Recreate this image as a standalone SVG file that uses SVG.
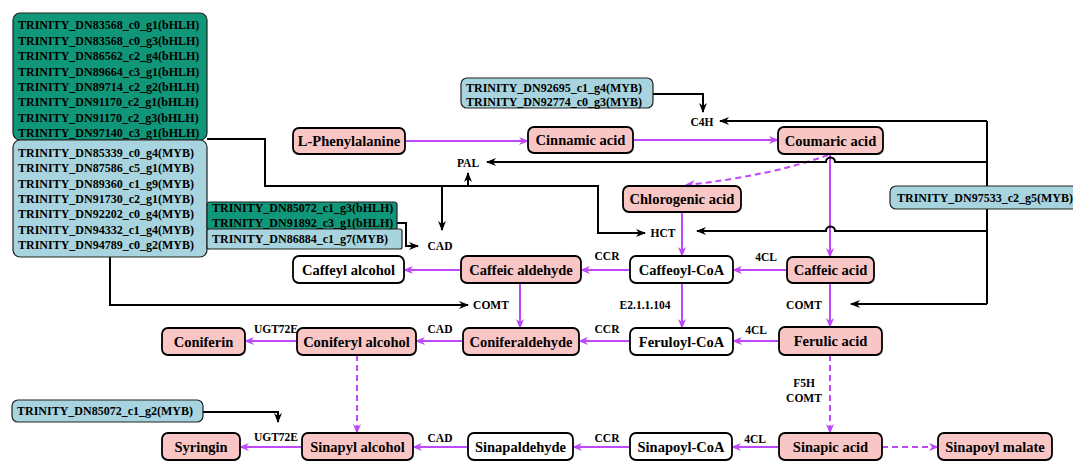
<svg xmlns="http://www.w3.org/2000/svg" width="1073" height="461" viewBox="0 0 1073 461">
<defs>
<style>
.t{font-family:"Liberation Serif","Times New Roman",serif;font-weight:bold;fill:#000}
.g{font-size:12px}
.n{font-size:14.5px;text-anchor:middle}
.e{font-size:11.5px;text-anchor:middle}
.pink{fill:#F8C6C4;stroke:#000;stroke-width:1.8}
.white{fill:#fff;stroke:#000;stroke-width:1.8}
.green{fill:#10977A;stroke:#222;stroke-width:1.2}
.blue{fill:#A7D4DF;stroke:#222;stroke-width:1.2}
.pl{fill:none;stroke:#BF48FB;stroke-width:2;marker-end:url(#pa)}
.pd{fill:none;stroke:#BF48FB;stroke-width:2;stroke-dasharray:6 4;marker-end:url(#pa)}
.bl{fill:none;stroke:#000;stroke-width:2}
.ba{fill:none;stroke:#000;stroke-width:2;marker-end:url(#ka)}
</style>
<marker id="pa" markerUnits="userSpaceOnUse" markerWidth="10" markerHeight="10" viewBox="0 0 10 10" refX="9" refY="5" orient="auto">
<path d="M0 1 L10 5 L0 9 L3 5 Z" fill="#BF48FB"/>
</marker>
<marker id="ka" markerUnits="userSpaceOnUse" markerWidth="10" markerHeight="10" viewBox="0 0 10 10" refX="9" refY="5" orient="auto-start-reverse">
<path d="M0 1 L10 5 L0 9 L3 5 Z" fill="#000"/>
</marker>
</defs>
<rect width="1073" height="461" fill="#fff"/>

<g id="connectors">
<path class="pl" d="M405 141 H528"/>
<path class="pl" d="M633 140 H778"/>
<path class="pd" d="M828 155 Q770 176 686 185"/>
<path class="pl" d="M830 154 V257"/>
<path class="pl" d="M682 212 V256"/>
<path class="pl" d="M787 270 H733"/>
<path class="pl" d="M630 270 H581"/>
<path class="pl" d="M461 270 H404"/>
<path class="pl" d="M520 283 V328"/>
<path class="pl" d="M682 283 V328"/>
<path class="pl" d="M830 283 V327"/>
<path class="pl" d="M779 341 H733"/>
<path class="pl" d="M630 341 H579"/>
<path class="pl" d="M463 341 H416"/>
<path class="pl" d="M297 341 H245"/>
<path class="pd" d="M357 355 V433"/>
<path class="pd" d="M830 355 V433"/>
<path class="pl" d="M779 447 H732"/>
<path class="pl" d="M630 447 H573"/>
<path class="pl" d="M468 447 H413"/>
<path class="pl" d="M302 447 H240"/>
<path class="pd" d="M882 447 H938"/>

<path class="ba" d="M653 94 H703 V112"/>
<path class="bl" d="M987 121 V304"/>
<path class="ba" d="M987 121 H720"/>
<path class="ba" d="M987 162 H835 A4.5 4.5 0 0 0 826 162 H487"/>
<path class="ba" d="M987 231 H835 A4.5 4.5 0 0 0 826 231 H697"/>
<path class="ba" d="M987 304 H851"/>
<path class="ba" d="M207 139 H265 V186 H598 V233 H645"/>
<path class="ba" d="M442 186 V230"/>
<path class="ba" d="M468 186 V173"/>
<path class="ba" d="M110 257 V305 H468"/>
<path class="ba" d="M397 223 H406 V246 H418"/>
<path class="ba" d="M203 412 H278 V422"/>

<text class="t e" x="702" y="126">C4H</text>
<text class="t e" x="468" y="167">PAL</text>
<text class="t e" x="663" y="237">HCT</text>
<text class="t e" x="440" y="250">CAD</text>
<text class="t e" x="607" y="260">CCR</text>
<text class="t e" x="766" y="261">4CL</text>
<text class="t e" x="491" y="309">COMT</text>
<text class="t e" x="645" y="309">E2.1.1.104</text>
<text class="t e" x="804" y="309">COMT</text>
<text class="t e" x="276" y="333">UGT72E</text>
<text class="t e" x="440" y="333">CAD</text>
<text class="t e" x="607" y="333">CCR</text>
<text class="t e" x="756" y="334">4CL</text>
<text class="t e" x="804" y="387">F5H</text>
<text class="t e" x="804" y="402">COMT</text>
<text class="t e" x="276" y="441">UGT72E</text>
<text class="t e" x="440" y="442">CAD</text>
<text class="t e" x="607" y="442">CCR</text>
<text class="t e" x="755" y="443">4CL</text>
</g>

<g id="tf-bhlh-1">
<rect class="green" x="13" y="13" width="194" height="127" rx="7"/>
<text class="t g" x="18" y="29.3">TRINITY_DN83568_c0_g1(bHLH)</text>
<text class="t g" x="18" y="44.7">TRINITY_DN83568_c0_g3(bHLH)</text>
<text class="t g" x="18" y="60.1">TRINITY_DN86562_c2_g4(bHLH)</text>
<text class="t g" x="18" y="75.5">TRINITY_DN89664_c3_g1(bHLH)</text>
<text class="t g" x="18" y="90.9">TRINITY_DN89714_c2_g2(bHLH)</text>
<text class="t g" x="18" y="106.3">TRINITY_DN91170_c2_g1(bHLH)</text>
<text class="t g" x="18" y="121.7">TRINITY_DN91170_c2_g3(bHLH)</text>
<text class="t g" x="18" y="137.1">TRINITY_DN97140_c3_g1(bHLH)</text>
</g>
<g id="tf-myb-1">
<rect class="blue" x="13" y="140" width="194" height="117" rx="7"/>
<text class="t g" x="18" y="156.6">TRINITY_DN85339_c0_g4(MYB)</text>
<text class="t g" x="18" y="172">TRINITY_DN87586_c5_g1(MYB)</text>
<text class="t g" x="18" y="187.5">TRINITY_DN89360_c1_g9(MYB)</text>
<text class="t g" x="18" y="203">TRINITY_DN91730_c2_g1(MYB)</text>
<text class="t g" x="18" y="218.4">TRINITY_DN92202_c0_g4(MYB)</text>
<text class="t g" x="18" y="233.9">TRINITY_DN94332_c1_g4(MYB)</text>
<text class="t g" x="18" y="249.3">TRINITY_DN94789_c0_g2(MYB)</text>
</g>
<g id="tf-cad">
<rect class="green" x="207" y="202" width="190" height="28" rx="3"/>
<rect class="blue" x="207" y="229" width="195" height="20" rx="2"/>
<text class="t g" x="212" y="211.6">TRINITY_DN85072_c1_g3(bHLH)</text>
<text class="t g" x="212" y="227">TRINITY_DN91892_c3_g1(bHLH)</text>
<text class="t g" x="212" y="243">TRINITY_DN86884_c1_g7(MYB)</text>
</g>
<g id="tf-c4h">
<rect class="blue" x="461" y="78" width="192" height="30" rx="6"/>
<text class="t g" x="466" y="92">TRINITY_DN92695_c1_g4(MYB)</text>
<text class="t g" x="466" y="106">TRINITY_DN92774_c0_g3(MYB)</text>
</g>
<g id="tf-right">
<rect class="blue" x="890" y="186" width="192" height="23" rx="6"/>
<text class="t g" x="897" y="202">TRINITY_DN97533_c2_g5(MYB)</text>
</g>
<g id="tf-bottom">
<rect class="blue" x="12" y="400" width="191" height="22" rx="6"/>
<text class="t g" x="17" y="415">TRINITY_DN85072_c1_g2(MYB)</text>
</g>

<g id="n-lphe"><rect class="pink" x="293" y="128" width="112" height="26" rx="6"/><text class="t n" x="349" y="146">L-Phenylalanine</text></g>
<g id="n-cinnamic"><rect class="pink" x="528" y="127" width="105" height="26" rx="6"/><text class="t n" x="580.5" y="145">Cinnamic acid</text></g>
<g id="n-coumaric"><rect class="pink" x="778" y="127" width="105" height="27" rx="6"/><text class="t n" x="830.5" y="145.5">Coumaric acid</text></g>
<g id="n-chlorogenic"><rect class="pink" x="623" y="186" width="118" height="26" rx="6"/><text class="t n" x="682" y="204">Chlorogenic acid</text></g>
<g id="n-caffeyl-alcohol"><rect class="white" x="293" y="256" width="111" height="27" rx="6"/><text class="t n" x="348.5" y="274.5">Caffeyl alcohol</text></g>
<g id="n-caffeic-aldehyde"><rect class="pink" x="461" y="256" width="120" height="27" rx="6"/><text class="t n" x="521" y="274.5">Caffeic aldehyde</text></g>
<g id="n-caffeoyl-coa"><rect class="white" x="630" y="256" width="103" height="27" rx="6"/><text class="t n" x="681.5" y="274.5">Caffeoyl-CoA</text></g>
<g id="n-caffeic-acid"><rect class="pink" x="787" y="257" width="87" height="26" rx="6"/><text class="t n" x="830.5" y="275">Caffeic acid</text></g>
<g id="n-coniferin"><rect class="pink" x="162" y="328" width="83" height="27" rx="6"/><text class="t n" x="203.5" y="346.5">Coniferin</text></g>
<g id="n-coniferyl-alcohol"><rect class="pink" x="297" y="328" width="119" height="27" rx="6"/><text class="t n" x="356.5" y="346.5">Coniferyl alcohol</text></g>
<g id="n-coniferaldehyde"><rect class="pink" x="463" y="328" width="116" height="27" rx="6"/><text class="t n" x="521" y="346.5">Coniferaldehyde</text></g>
<g id="n-feruloyl-coa"><rect class="white" x="630" y="328" width="103" height="27" rx="6"/><text class="t n" x="681.5" y="346.5">Feruloyl-CoA</text></g>
<g id="n-ferulic"><rect class="pink" x="779" y="327" width="103" height="28" rx="6"/><text class="t n" x="830.5" y="346">Ferulic acid</text></g>
<g id="n-syringin"><rect class="pink" x="162" y="433" width="78" height="27" rx="6"/><text class="t n" x="201" y="451.5">Syringin</text></g>
<g id="n-sinapyl-alcohol"><rect class="pink" x="302" y="433" width="111" height="27" rx="6"/><text class="t n" x="357.5" y="451.5">Sinapyl alcohol</text></g>
<g id="n-sinapaldehyde"><rect class="white" x="468" y="433" width="105" height="27" rx="6"/><text class="t n" x="520.5" y="451.5">Sinapaldehyde</text></g>
<g id="n-sinapoyl-coa"><rect class="white" x="630" y="433" width="102" height="27" rx="6"/><text class="t n" x="681" y="451.5">Sinapoyl-CoA</text></g>
<g id="n-sinapic"><rect class="pink" x="779" y="433" width="103" height="27" rx="6"/><text class="t n" x="830.5" y="451.5">Sinapic acid</text></g>
<g id="n-sinapoyl-malate"><rect class="pink" x="938" y="433" width="114" height="27" rx="6"/><text class="t n" x="995" y="451.5">Sinapoyl malate</text></g>
</svg>
